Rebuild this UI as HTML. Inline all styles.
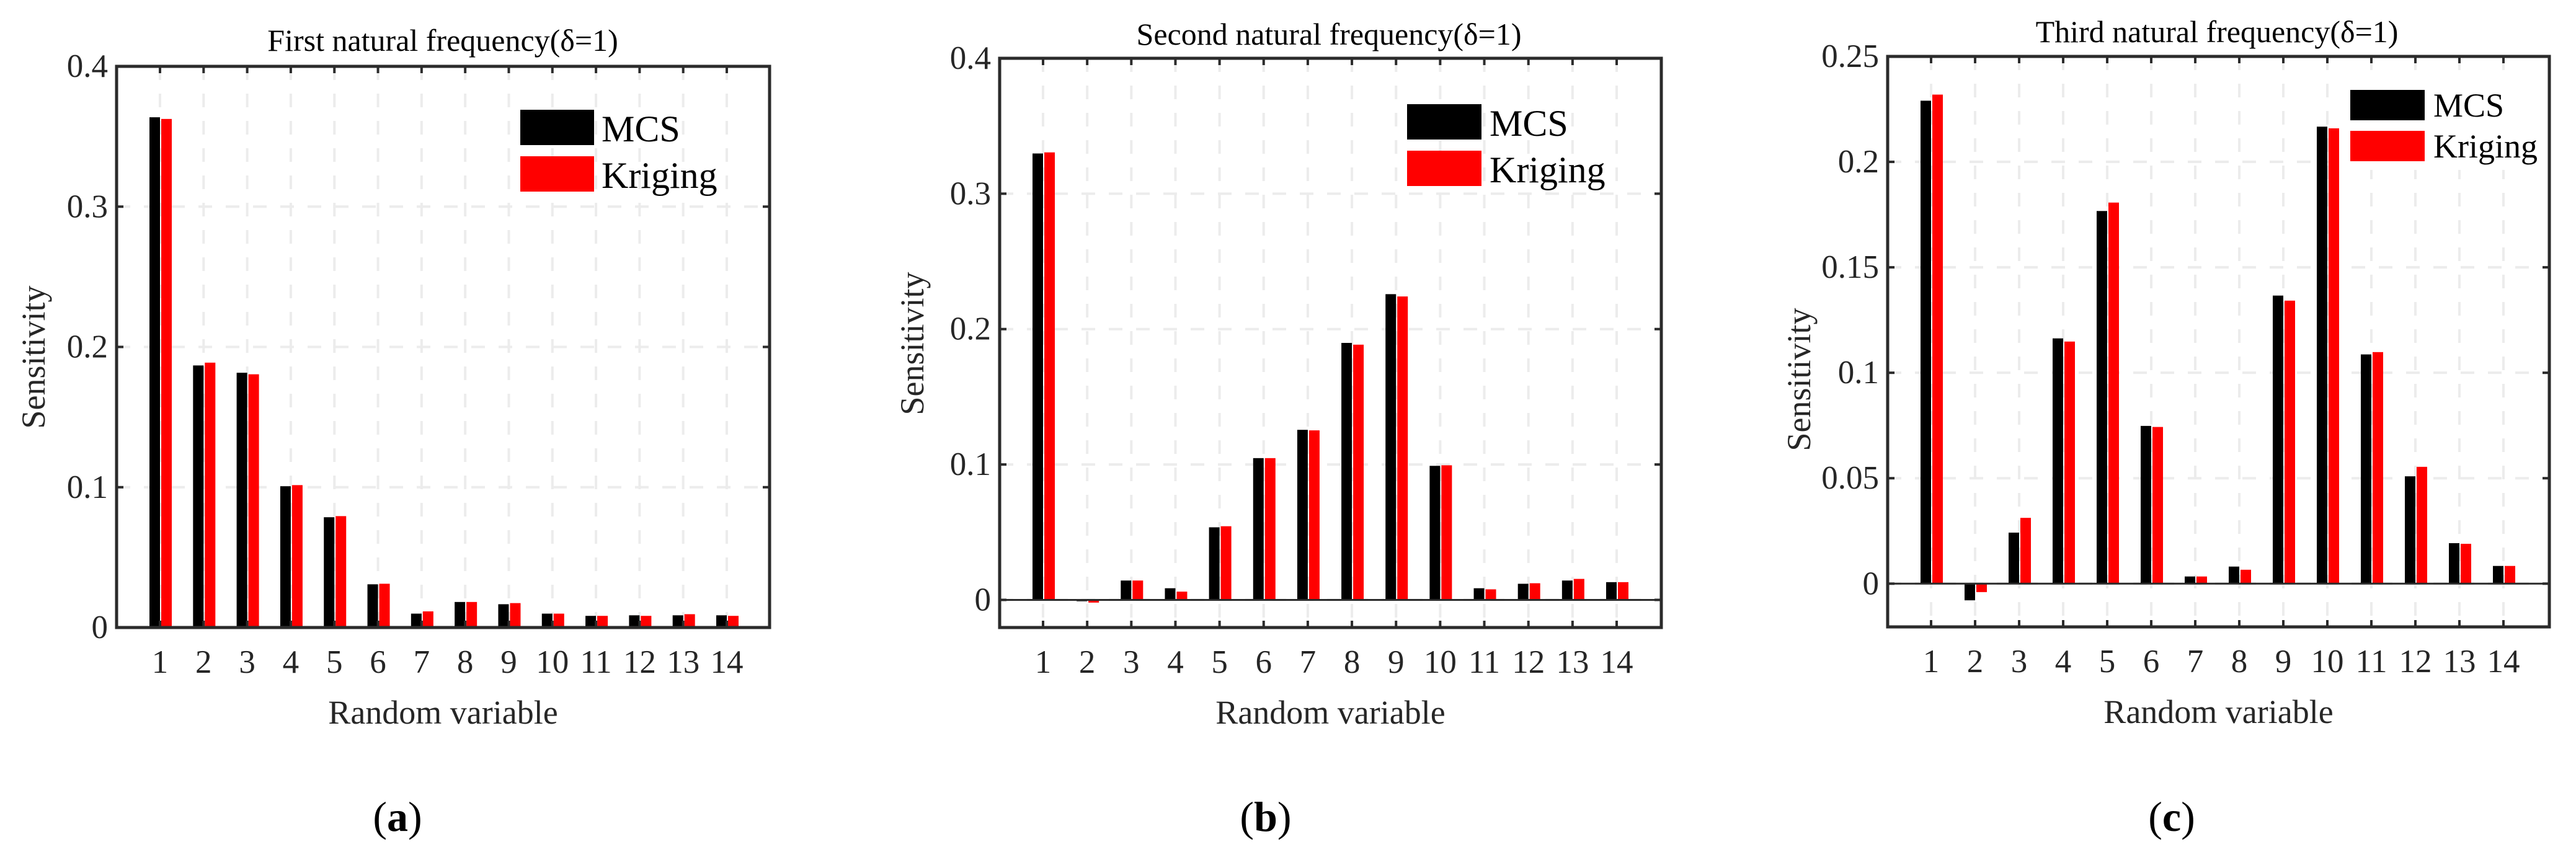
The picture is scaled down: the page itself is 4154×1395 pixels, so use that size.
<!DOCTYPE html>
<html><head><meta charset="utf-8"><style>
html,body{margin:0;padding:0;background:#fff;}
svg{display:block;font-family:"Liberation Serif",serif;}
</style></head><body>
<svg id="fig" width="4154" height="1395" viewBox="0 0 4154 1395"></svg>
<script>
const categories = [1,2,3,4,5,6,7,8,9,10,11,12,13,14];
const mcsA = [0.3637,0.1868,0.1816,0.1007,0.0786,0.0308,0.0099,0.0182,0.0166,0.0099,0.0083,0.0087,0.0087,0.0087];
const krgA = [0.3625,0.1888,0.1805,0.1015,0.0794,0.0312,0.0115,0.0182,0.0174,0.0099,0.0083,0.0083,0.0095,0.0083];
const mcsB = [0.3297,-0.001,0.0143,0.0086,0.0536,0.1047,0.1256,0.1898,0.2258,0.099,0.0086,0.0119,0.0143,0.0131];
const krgB = [0.3305,-0.002,0.0143,0.0061,0.0544,0.1047,0.1252,0.1885,0.2241,0.0994,0.0078,0.0123,0.0155,0.0131];
const mcsC = [0.229,-0.0079,0.0242,0.1163,0.1767,0.0748,0.0034,0.0081,0.1366,0.2167,0.1087,0.0509,0.0192,0.0084];
const krgC = [0.2319,-0.004,0.0312,0.1148,0.1807,0.0743,0.0034,0.0066,0.1342,0.2159,0.1098,0.0554,0.0189,0.0084];
const ticksA = [0,0.1,0.2,0.3,0.4];
const tickLabelsA = ["0","0.1","0.2","0.3","0.4"];
const ticksB = [0,0.1,0.2,0.3,0.4];
const tickLabelsB = ["0","0.1","0.2","0.3","0.4"];
const ticksC = [0,0.05,0.1,0.15,0.2,0.25];
const tickLabelsC = ["0","0.05","0.1","0.15","0.2","0.25"];

const NS="http://www.w3.org/2000/svg";
const svg=document.getElementById('fig');
function mk(tag,attrs,parent){const e=document.createElementNS(NS,tag);for(const k in attrs)e.setAttribute(k,attrs[k]);(parent||svg).appendChild(e);return e;}

const panels=[
 {id:'a',L:188,R:1241,T:107,B:1012,ymin:0,ymax:0.4,x1:258,x14:1172,mcs:mcsA,krg:krgA,ticks:ticksA,labels:tickLabelsA,
  title:'First natural frequency(δ=1)',tx:714,ty:82,ylx:54,yly:576,
  leg:{x:839,y1:177,y2:252,w:119,h:57,tx:970,fs:60,bg:false},letter:'a',lx:641},
 {id:'b',L:1612,R:2679,T:94,B:1012,ymin:-0.0204,ymax:0.4,x1:1682,x14:2607,mcs:mcsB,krg:krgB,ticks:ticksB,labels:tickLabelsB,
  title:'Second natural frequency(δ=1)',tx:2143,ty:72,ylx:1471,yly:554,
  leg:{x:2269,y1:168,y2:243,w:120,h:57,tx:2402,fs:60,bg:false},letter:'b',lx:2041},
 {id:'c',L:3044,R:4111,T:91,B:1011,ymin:-0.0205,ymax:0.25,x1:3114,x14:4037,mcs:mcsC,krg:krgC,ticks:ticksC,labels:tickLabelsC,
  title:'Third natural frequency(δ=1)',tx:3575,ty:68,ylx:2901,yly:612,
  leg:{x:3790,y1:145,y2:211,w:120,h:49,tx:3924,fs:54,bg:true},letter:'c',lx:3502}
];

panels.forEach(p=>{
  const g=mk('g',{});
  
  
  const Y=v=>p.B-(v-p.ymin)/(p.ymax-p.ymin)*(p.B-p.T);
  const step=(p.x14-p.x1)/13;
  const X=i=>p.x1+i*step;
  categories.forEach((c,i)=>{
    const l=mk('line',{x1:X(i),x2:X(i),y1:p.T,y2:p.B,stroke:'#ececec','stroke-width':4,'stroke-dasharray':'22 22'},g);
    
    
  });
  p.ticks.forEach((t,i)=>{
    const l=mk('line',{x1:p.L,x2:p.R,y1:Y(t),y2:Y(t),stroke:'#ececec','stroke-width':4,'stroke-dasharray':'22 22'},g);
    
    
  });
  categories.forEach((c,i)=>{
    const cx=X(i), y0=Y(0);
    const vm=p.mcs[i], vk=p.krg[i];
    const b1=mk('rect',{x:cx-17,width:17,y:Math.min(Y(vm),y0),height:Math.max(1.5,Math.abs(Y(vm)-y0)),fill:'#000'},g);
    
    
    const b2=mk('rect',{x:cx+2,width:17,y:Math.min(Y(vk),y0),height:Math.max(1.5,Math.abs(Y(vk)-y0)),fill:'#ff0000'},g);
    
    
  });
  if(p.ymin<0){
    const z=mk('line',{x1:p.L,x2:p.R,y1:Y(0),y2:Y(0),stroke:'#2b2b2b','stroke-width':3},g);
    
    
  }
  categories.forEach((c,i)=>{
    mk('line',{x1:X(i),x2:X(i),y1:p.B,y2:p.B-11,stroke:'#2b2b2b','stroke-width':4},g);
    mk('line',{x1:X(i),x2:X(i),y1:p.T,y2:p.T+11,stroke:'#2b2b2b','stroke-width':4},g);
    const t=mk('text',{x:X(i),y:p.B+73,'font-size':53,fill:'#262626','text-anchor':'middle'},g);
    t.textContent=c;
    
    
  });
  p.ticks.forEach((tv,i)=>{
    mk('line',{x1:p.L,x2:p.L+11,y1:Y(tv),y2:Y(tv),stroke:'#2b2b2b','stroke-width':4},g);
    mk('line',{x1:p.R,x2:p.R-11,y1:Y(tv),y2:Y(tv),stroke:'#2b2b2b','stroke-width':4},g);
    const t=mk('text',{x:p.L-14,y:Y(tv)+17,'font-size':53,fill:'#262626','text-anchor':'end'},g);
    t.textContent=p.labels[i];
    
    
  });
  const lg=mk('g',{},g);
  
  
  if(p.leg.bg){mk('rect',{x:p.leg.x-18,y:p.leg.y1-14,width:p.R-p.leg.x+16,height:p.leg.y2+p.leg.h-p.leg.y1+28,fill:'#fff'},lg);}
  mk('rect',{x:p.leg.x,y:p.leg.y1,width:p.leg.w,height:p.leg.h,fill:'#000'},lg);
  mk('rect',{x:p.leg.x,y:p.leg.y2,width:p.leg.w,height:p.leg.h,fill:'#ff0000'},lg);
  const t1=mk('text',{x:p.leg.tx,y:p.leg.y1+p.leg.h-6,'font-size':p.leg.fs,fill:'#000'},lg);t1.textContent='MCS';
  
  
  const t2=mk('text',{x:p.leg.tx,y:p.leg.y2+p.leg.h-6,'font-size':p.leg.fs,fill:'#000'},lg);t2.textContent='Kriging';
  
  
  const f=mk('rect',{x:p.L,y:p.T,width:p.R-p.L,height:p.B-p.T,fill:'none',stroke:'#2b2b2b','stroke-width':5},g);
  
  
  const ti=mk('text',{x:p.tx,y:p.ty,'font-size':50,fill:'#000','text-anchor':'middle'},g);ti.textContent=p.title;
  
  
  const xl=mk('text',{x:(p.L+p.R)/2,y:p.B+155,'font-size':54,fill:'#262626','text-anchor':'middle'},g);xl.textContent='Random variable';
  
  
  const yl=mk('text',{x:0,y:0,'font-size':54,fill:'#262626','text-anchor':'middle',transform:`translate(${p.ylx+18},${p.yly}) rotate(-90)`},g);yl.textContent='Sensitivity';
  
  
  const pl=mk('text',{x:p.lx,y:1340,'font-size':68,fill:'#000','text-anchor':'middle'},g);
  pl.innerHTML='(<tspan font-weight="bold">'+p.letter+'</tspan>)';
  
  
});
</script>
</body></html>
